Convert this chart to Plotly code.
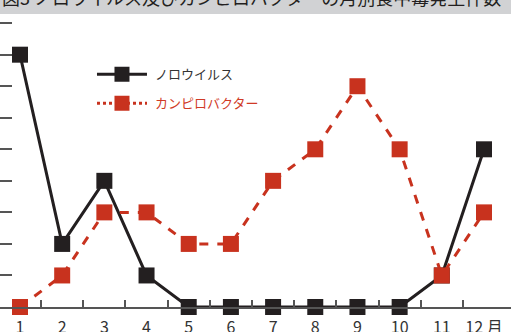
import plotly.graph_objects as go

# Monthly counts of food poisoning incidents
months = list(range(1, 13))
month_labels = [str(m) for m in months[:-1]] + ["12 月"]
norovirus = [8, 2, 4, 1, 0, 0, 0, 0, 0, 0, 1, 5]
campylobacter = [0, 1, 3, 3, 2, 2, 4, 5, 7, 5, 1, 3]

title_text = "図3 ノロウイルス及びカンピロバクターの月別食中毒発生件数"
name_noro = "ノロウイルス"
name_campy = "カンピロバクター"

BLACK = "#231f20"
RED = "#c8321e"
AXIS = "#555555"
FONT = "Noto Sans CJK JP"

fig = go.Figure()

# data series (legend entries are drawn by the empty traces below)
fig.add_trace(go.Scatter(
    x=months, y=norovirus, mode="lines+markers", showlegend=False,
    line=dict(color=BLACK, width=3),
    marker=dict(symbol="square", size=16, color=BLACK),
    cliponaxis=False,
))
fig.add_trace(go.Scatter(
    x=months, y=campylobacter, mode="lines+markers", showlegend=False,
    line=dict(color=RED, width=3, dash="dash"),
    marker=dict(symbol="square", size=16, color=RED),
    cliponaxis=False,
))

# legend samples
fig.add_trace(go.Scatter(
    x=[None], y=[None], mode="lines+markers", name="\u00a0" + name_noro,
    legendgroup="a",
    line=dict(color=BLACK, width=3),
    marker=dict(symbol="square", size=15, color=BLACK),
))
fig.add_trace(go.Scatter(
    x=[None], y=[None], mode="lines+markers",
    name=f'\u00a0<span style="color:#d03a26">{name_campy}</span>',
    legendgroup="b",
    line=dict(color=RED, width=3, dash="dot"),
    marker=dict(symbol="square", size=15, color=RED),
))

fig.update_layout(
    width=511, height=332,
    margin=dict(l=0, r=0, t=14, b=25, autoexpand=False),
    paper_bgcolor="white", plot_bgcolor="white",
    font=dict(family=FONT, color="#333333"),
    showlegend=True,
    legend=dict(
        x=0.18, y=0.845, xanchor="left", yanchor="top",
        bgcolor="rgba(0,0,0,0)", font=dict(size=13, color="#333333"),
        itemwidth=50, traceorder="grouped", tracegroupgap=9,
    ),
    xaxis=dict(
        range=[0.526, 12.64], tickvals=months, ticktext=month_labels,
        ticks="", showgrid=False, zeroline=False, automargin=False,
        showline=True, linecolor=AXIS, linewidth=1.5,
        tickfont=dict(size=16, color="#333333", family=FONT),
        ticklabelstandoff=5,
        minor=dict(tickmode="array", tickvals=[m + 0.5 for m in months[:-1]],
                   ticks="inside", ticklen=7, tickcolor=AXIS, tickwidth=1.5,
                   showgrid=False),
    ),
    yaxis=dict(
        range=[0, 9.29], tickvals=list(range(0, 10)), showticklabels=False,
        ticks="inside", ticklen=12, tickcolor=AXIS, tickwidth=1.5,
        showgrid=False, zeroline=False, showline=False, automargin=False,
    ),
)

# title band across the top
fig.add_shape(type="rect", xref="paper", yref="paper",
              x0=0, x1=1, y0=1.0, y1=1.2,
              fillcolor="#d1d2d4", line=dict(width=0), layer="below")
fig.add_annotation(text=title_text, xref="paper", yref="paper",
                   x=0, y=1, xanchor="left", yanchor="middle", yshift=17,
                   showarrow=False, font=dict(size=18, color="#231f20", family=FONT))

fig.write_html("out.html")
